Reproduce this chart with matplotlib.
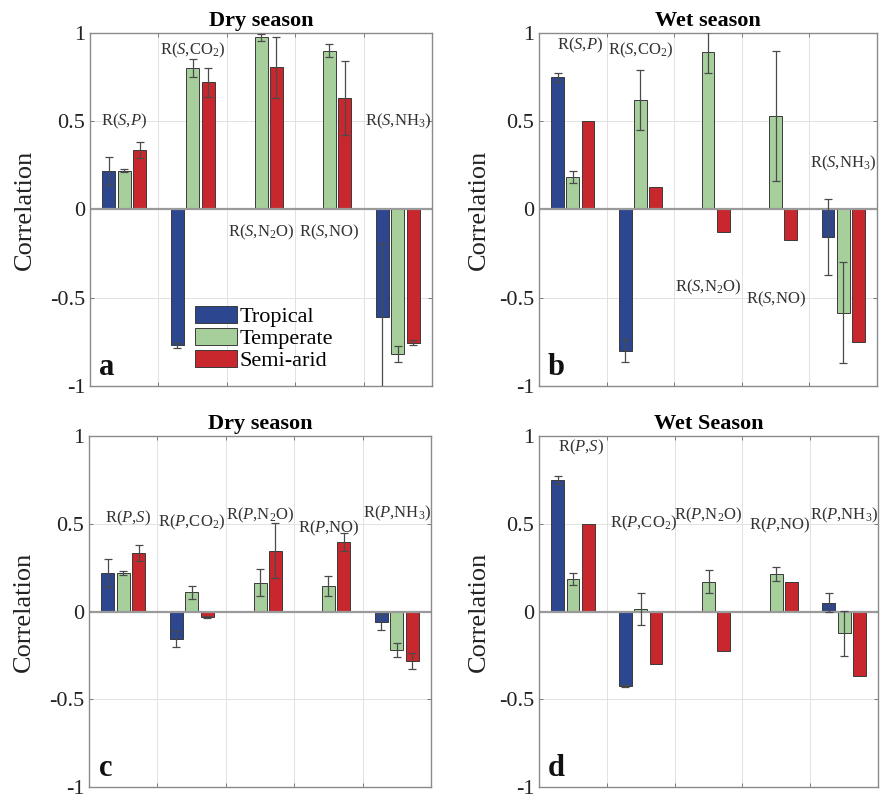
import numpy as np
import matplotlib
matplotlib.use('Agg')
import matplotlib.pyplot as plt
from matplotlib.patches import Patch

plt.rcParams['font.family'] = ['Liberation Serif', 'DejaVu Serif']
plt.rcParams['mathtext.fontset'] = 'custom'
plt.rcParams['mathtext.rm'] = 'Liberation Serif'
plt.rcParams['mathtext.it'] = 'Liberation Serif:italic'


## Data
climates = ['Tropical', 'Temperate', 'Semi-arid']
colors = ['#2c4690', '#a6cf9c', '#c8282d']

# a: S vs others, dry season
a_trop = [0.22, -0.77, 0, 0, -0.61]
a_trop_err = [0.08, 0.014, 0, 0, 0.42]
a_temp = [0.22, 0.80, 0.975, 0.90, -0.82]
a_temp_err = [0.01, 0.05, 0.02, 0.035, 0.045]
a_semi = [0.335, 0.72, 0.805, 0.63, -0.755]
a_semi_err = [0.045, 0.08, 0.175, 0.21, 0.015]

# b: S vs others, wet season
b_trop = [0.75, -0.80, 0, 0, -0.155]
b_trop_err = [0.025, 0.064, 0, 0, 0.215]
b_temp = [0.185, 0.62, 0.89, 0.53, -0.585]
b_temp_err = [0.033, 0.17, 0.115, 0.367, 0.287]
b_semi = [0.50, 0.13, -0.125, -0.17, -0.75]
b_semi_err = [0, 0, 0, 0, 0]

# c: P vs others, dry season
c_trop = [0.22, -0.155, 0, 0, -0.06]
c_trop_err = [0.08, 0.045, 0, 0, 0.045]
c_temp = [0.22, 0.11, 0.165, 0.145, -0.22]
c_temp_err = [0.01, 0.038, 0.078, 0.055, 0.04]
c_semi = [0.335, -0.033, 0.347, 0.395, -0.28]
c_semi_err = [0.045, 0.006, 0.155, 0.05, 0.045]

# d: P vs others, wet season
d_trop = [0.75, -0.423, 0, 0, 0.05]
d_trop_err = [0.025, 0.006, 0, 0, 0.055]
d_temp = [0.185, 0.015, 0.17, 0.213, -0.125]
d_temp_err = [0.033, 0.09, 0.065, 0.04, 0.13]
d_semi = [0.50, -0.30, -0.223, 0.166, -0.37]
d_semi_err = [0, 0, 0, 0, 0]

s_labels = [r'R($S$,$P$)', r'R($S$,CO$_2$)', r'R($S$,N$_2$O)', r'R($S$,NO)', r'R($S$,NH$_3$)']
p_labels = [r'R($P$,$S$)', r'R($P$,CO$_2$)', r'R($P$,N$_2$O)', r'R($P$,NO)', r'R($P$,NH$_3$)']

panels = [
    dict(title='Dry season', letter='a', labels=s_labels,
         vals=[a_trop, a_temp, a_semi], errs=[a_trop_err, a_temp_err, a_semi_err],
         lab_xy=[(1.0, 0.5), (2.0, 0.9), (3.0, -0.13), (4.0, -0.13), (5.0, 0.5)],
         rect=[0.1016, 0.5169, 0.386, 0.4418], ylabel=-0.158),
    dict(title='Wet season', letter='b', labels=s_labels,
         vals=[b_trop, b_temp, b_semi], errs=[b_trop_err, b_temp_err, b_semi_err],
         lab_xy=[(1.1, 0.93), (2.0, 0.9), (3.0, -0.44), (4.0, -0.51), (5.0, 0.26)],
         rect=[0.6084, 0.5169, 0.3815, 0.4418], ylabel=-0.145),
    dict(title='Dry season', letter='c', labels=p_labels,
         vals=[c_trop, c_temp, c_semi], errs=[c_trop_err, c_temp_err, c_semi_err],
         lab_xy=[(1.07, 0.53), (2.0, 0.51), (3.0, 0.55), (4.0, 0.475), (5.0, 0.56)],
         rect=[0.1005, 0.015, 0.386, 0.4393], ylabel=-0.158),
    dict(title='Wet Season', letter='d', labels=p_labels,
         vals=[d_trop, d_temp, d_semi], errs=[d_trop_err, d_temp_err, d_semi_err],
         lab_xy=[(1.12, 0.935), (2.04, 0.5), (3.0, 0.55), (4.05, 0.49), (5.0, 0.55)],
         rect=[0.6084, 0.015, 0.3826, 0.4393], ylabel=-0.145),
]

offsets = [-0.225, 0.0, 0.225]
width = 0.19
groups = np.arange(1, 6)


## Plotting
fig = plt.figure(figsize=(8.86, 7.99), dpi=100)

for p in panels:
    ax = fig.add_axes(p['rect'])
    ax.set_axisbelow(True)

    for k in range(3):
        x = groups + offsets[k]
        ax.bar(x, p['vals'][k], width, color=colors[k],
               edgecolor='#3a3a3a', linewidth=0.7, label=climates[k], zorder=2)
        err = np.array(p['errs'][k])
        m = err > 0
        ax.errorbar(x[m], np.array(p['vals'][k])[m], yerr=err[m], fmt='none',
                    ecolor='#4a4a4a', elinewidth=0.9, capsize=3, capthick=0.9, zorder=3)

    ax.axhline(0, color='#9a9a9a', linewidth=1.6, zorder=2.5)

    for (tx, ty), lab in zip(p['lab_xy'], p['labels']):
        ax.text(tx, ty, lab, ha='center', va='center', fontsize=12, color='#333333', zorder=4)

    ax.text(0.75, -0.94, p['letter'], ha='center', va='baseline',
            fontsize=22, fontweight='bold', color='#111111')

    ax.set_xlim(0.5, 5.5)
    ax.set_ylim(-1, 1)
    ax.set_xticks([1.5, 2.5, 3.5, 4.5])
    ax.set_xticklabels([])
    ax.set_yticks([-1, -0.5, 0, 0.5, 1])
    ax.set_yticklabels(['-1', '-0.5', '0', '0.5', '1'])
    ax.tick_params(axis='both', direction='in', length=3, width=0.7, color='#777777',
                   top=True, right=True, labelsize=16, labelcolor='#222222')
    ax.grid(True, color='#e2e2e2', linewidth=0.7)
    for s in ax.spines.values():
        s.set_color('#8a8a8a')
        s.set_linewidth(1.0)

    ax.set_title(p['title'], fontsize=16, fontweight='bold', pad=5)
    ax.set_ylabel('Correlation', fontsize=19, color='#222222')
    ax.yaxis.set_label_coords(p['ylabel'], 0.5)

    if p['letter'] == 'a':
        handles = [Patch(facecolor=colors[k], edgecolor='#3a3a3a', linewidth=0.7)
                   for k in range(3)]
        ax.legend(handles, climates, loc='upper left', bbox_to_anchor=(0.307, 0.228),
                  frameon=False, fontsize=16, borderpad=0, borderaxespad=0,
                  handlelength=1.9, handleheight=0.8, handletextpad=0.1,
                  labelspacing=0.05)

fig.savefig('out.png', dpi=100)
